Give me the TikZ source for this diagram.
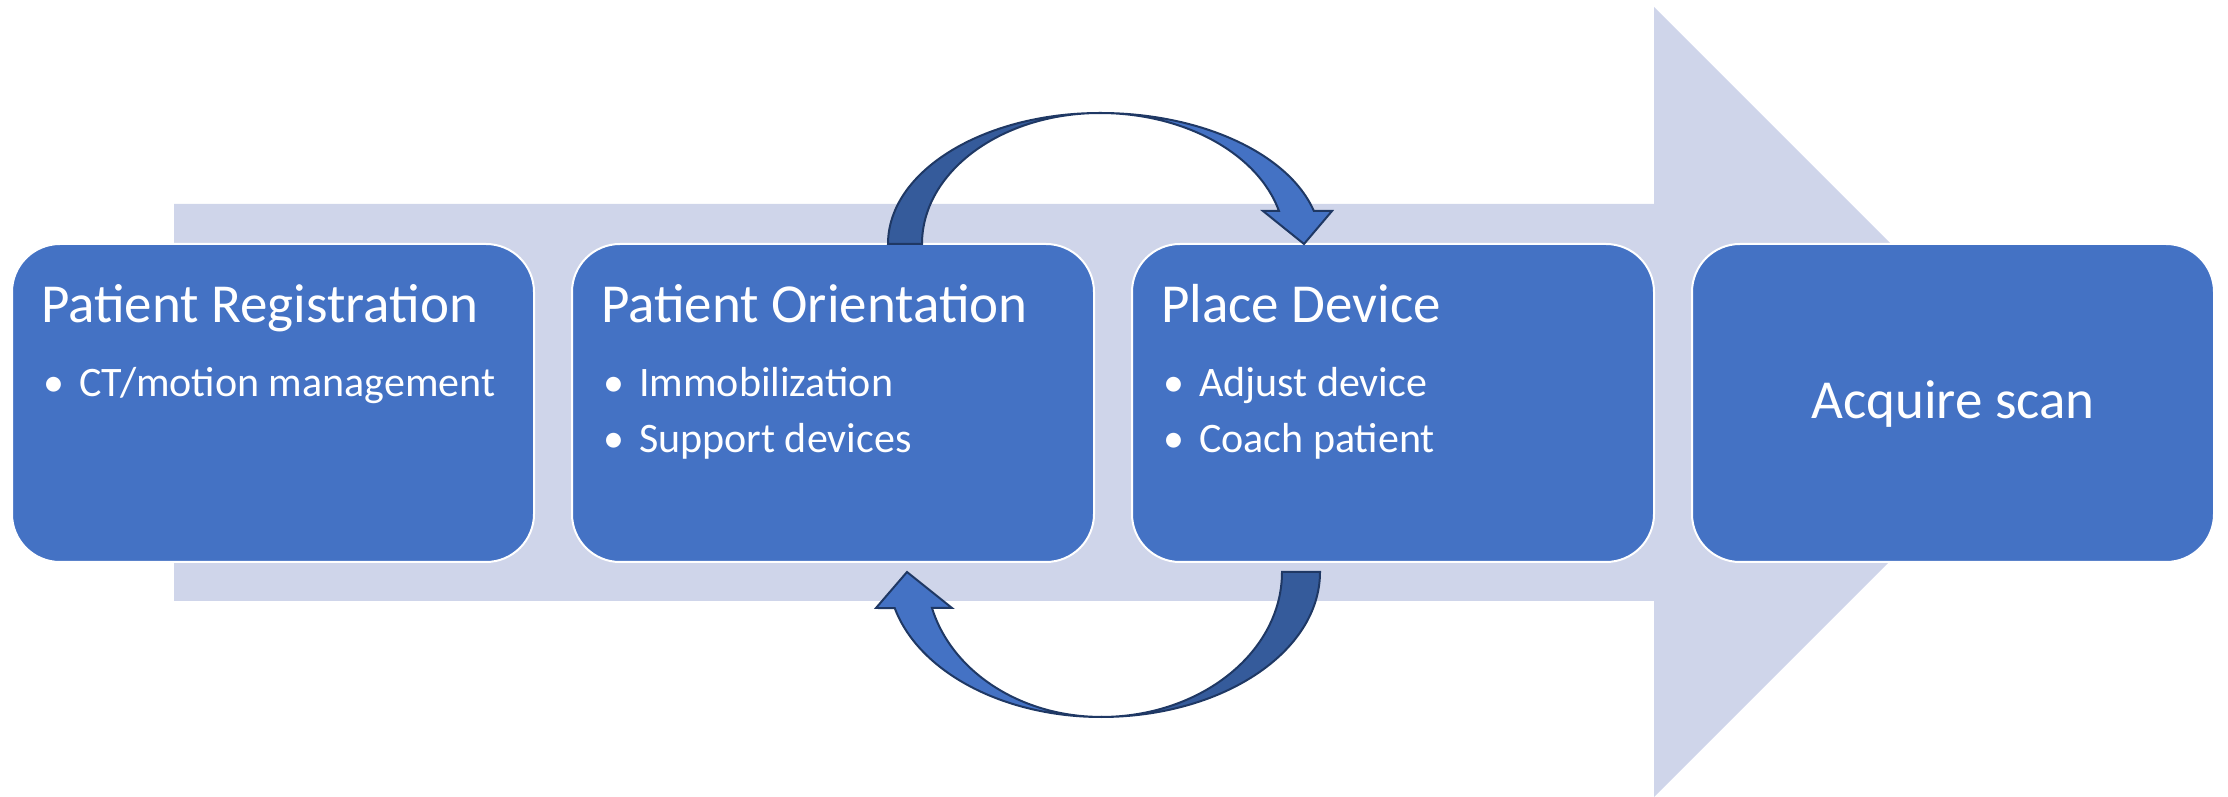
\documentclass[tikz,border=0pt]{standalone}
\usepackage{fontspec}
\setmainfont{Carlito}
\definecolor{accent}{HTML}{4472C4}
\definecolor{accentdark}{HTML}{355B9B}
\definecolor{flow}{HTML}{CFD5EA}
\definecolor{rim}{HTML}{1F3864}
\begin{document}
\begin{tikzpicture}[x=1pt,y=1pt,
  stepbox/.style={draw=white, line width=2pt, fill=accent, rounded corners=48pt,
    minimum width=522pt, minimum height=318pt, inner sep=0pt, outer sep=0pt},
  titletext/.style={text=white, font=\fontsize{55}{66}\selectfont, inner sep=0pt, anchor=base west},
  itemtext/.style={text=white, font=\fontsize{42}{50}\selectfont, inner sep=0pt, anchor=base west},
  loopback/.style={draw=rim, line width=2pt, line join=miter},
]
\useasboundingbox (0,0) rectangle (2228,797);

% wide background arrow
\fill[flow] (174,196) -- (174,593) -- (1654,593) -- (1654,790) -- (2049,395)
  -- (1654,0) -- (1654,196) -- cycle;

% process steps
\node[stepbox] (reg) at (273,394) {};
\node[stepbox] (ori) at (833,394) {};
\node[stepbox] (dev) at (1393,394) {};
\node[stepbox] (acq) at (1953,394) {};

% step titles
\node[titletext] (regT) at ([xshift=29pt,yshift=-79pt]reg.north west) {Patient Registration};
\node[titletext] (oriT) at ([xshift=29pt,yshift=-79pt]ori.north west) {Patient Orientation};
\node[titletext] (devT) at ([xshift=29pt,yshift=-79pt]dev.north west) {Place Device};
\node[text=white, font=\fontsize{55}{66}\selectfont, inner sep=0pt, anchor=base]
  (acqT) at ([yshift=-16pt]acq.center) {Acquire scan};

% bullet items
\node[itemtext] (regB1) at ([xshift=31pt,yshift=-153pt]reg.north west) {•};
\node[itemtext] (regI1) at ([xshift=67pt,yshift=-153pt]reg.north west) {CT/motion management};

\node[itemtext] (oriB1) at ([xshift=31pt,yshift=-153pt]ori.north west) {•};
\node[itemtext] (oriI1) at ([xshift=67pt,yshift=-153pt]ori.north west) {Immobilization};
\node[itemtext] (oriB2) at ([xshift=31pt,yshift=-209pt]ori.north west) {•};
\node[itemtext] (oriI2) at ([xshift=67pt,yshift=-209pt]ori.north west) {Support devices};

\node[itemtext] (devB1) at ([xshift=31pt,yshift=-153pt]dev.north west) {•};
\node[itemtext] (devI1) at ([xshift=67pt,yshift=-153pt]dev.north west) {Adjust device};
\node[itemtext] (devB2) at ([xshift=31pt,yshift=-209pt]dev.north west) {•};
\node[itemtext] (devI2) at ([xshift=67pt,yshift=-209pt]dev.north west) {Coach patient};

% upper curved arrow: back band, tapering to the apex
\filldraw[loopback, fill=accentdark] (888,553)
  arc[start angle=180, end angle=90, x radius=212pt, y radius=131pt]
  arc[start angle=90, end angle=180, x radius=178pt, y radius=131pt] -- cycle;
% upper curved arrow: front band with head
\filldraw[loopback, fill=accent] (1100,684)
  arc[start angle=90, end angle=14.6, x radius=221pt, y radius=131pt]
  -- (1332,586) -- (1304,553) -- (1263,586) -- (1279,586)
  arc[start angle=14.6, end angle=90, x radius=185pt, y radius=131pt] -- cycle;

% lower curved arrow: back band, tapering to the bottom
\filldraw[loopback, fill=accentdark] (1320,225)
  arc[start angle=0, end angle=-90, x radius=219pt, y radius=145pt]
  arc[start angle=-90, end angle=0, x radius=181pt, y radius=145pt] -- cycle;
% lower curved arrow: front band with head
\filldraw[loopback, fill=accent] (1101,80)
  arc[start angle=-90, end angle=-165.6, x radius=213pt, y radius=145pt]
  -- (876,189) -- (907,225) -- (952,189) -- (932,189)
  arc[start angle=-165.6, end angle=-90, x radius=174.5pt, y radius=145pt] -- cycle;
\end{tikzpicture}
\end{document}
